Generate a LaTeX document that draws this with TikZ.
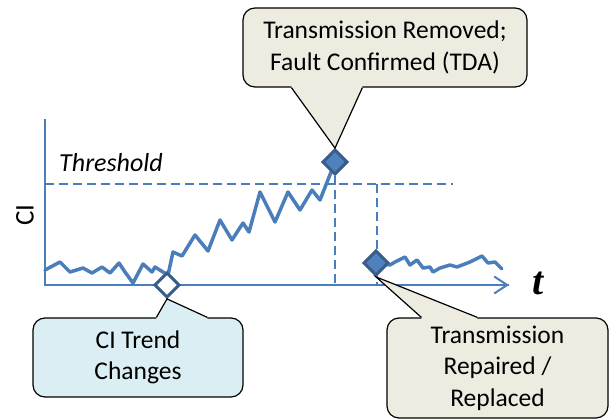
\documentclass[tikz,border=0pt]{standalone}
\usepackage{fontspec}
\setmainfont{Carlito}
\newfontfamily\timesfont{Liberation Serif}
\usetikzlibrary{shapes.geometric,arrows.meta,calc}

\definecolor{ciblue}{HTML}{4A7EBB}
\definecolor{mark}{HTML}{4F81BD}
\definecolor{markedge}{HTML}{385D8A}
\definecolor{notetan}{HTML}{EEECE1}
\definecolor{noteblue}{HTML}{DAEEF3}

\tikzset{
  axis/.style={ciblue, line width=2pt},
  guide/.style={ciblue, line width=1.6pt, dash pattern=on 9pt off 5pt},
  signal/.style={ciblue, line width=3.5pt, line join=round, line cap=round},
  event/.style={draw=markedge, fill=mark, diamond, minimum size=25pt, inner sep=0pt, line width=2.8pt},
  note/.style={draw=black, line width=1.2pt, rounded corners=12pt, align=center,
               inner sep=0pt, font=\fontsize{25.5}{31.5}\selectfont},
}

\begin{document}
\begin{tikzpicture}[x=1pt, y=-1pt]
    \useasboundingbox (0,0) rectangle (610,420);

    % axes and threshold
    \coordinate (o) at (45,285);
    \draw[axis] (45,119) -- (o) -- (509,285) coordinate (tend);
    \draw[axis, -{Straight Barb[length=13pt, width=17pt, line width=2pt]}] (480,285) -- (tend);
    \node[font=\fontsize{26}{26}\selectfont\itshape] (thr) at (111,163) {Threshold};
    \node[font=\fontsize{27}{27}\selectfont, rotate=90] (ci) at (25,215) {CI};
    \node[font=\fontsize{40}{40}\selectfont\timesfont\bfseries\itshape] (t) at (538,283) {t};

    % nodes: trend change, removal, repair
    \node[event, fill=white] (chg) at (167,285) {};
    \node[event] (rmv) at (335,162) {};
    \node[event] (rpr) at (376,263) {};

    % dashed guides
    \draw[guide] (o |- 0,184) -- (453,184);
    \draw[guide] (rmv.center) -- (rmv |- o);
    \draw[guide] (377,184) -- (377,285);

    % CI signal
    \draw[signal] plot coordinates {(45,270) (60,262) (70,272) (83,268) (92,273) (102,267)
        (110,273) (119,263) (125,272) (133,283) (143,264) (152,272) (155,267) (163,272)
        (168,275) (173,252) (182,256) (195,235) (208,251) (220,220) (232,240) (243,223)
        (249,232) (260,192) (268,208) (275,222) (288,192) (300,210) (312,190) (320,200)
        (rmv.center)};
    \draw[signal] plot coordinates {(rpr.center) (390,265) (395,262) (405,257) (410,265)
        (417,260) (423,268) (430,267) (433,272) (440,268) (450,265) (457,267) (470,262)
        (482,256) (488,263) (495,262) (502,269)};

    % redraw markers on top of the signal
    \node[event, fill=white] at (chg) {};
    \node[event] at (rmv) {};
    \node[event] at (rpr) {};

    % callouts
    \node[note, fill=notetan, minimum width=284pt, minimum height=79pt] (rmvnote) at (385,47.5)
        {Transmission Removed;\\Fault Confirmed (TDA)};
    \node[note, fill=noteblue, minimum width=210pt, minimum height=79pt] (chgnote) at (138,357.5)
        {CI Trend\\Changes};
    \node[note, fill=notetan, minimum width=221pt, minimum height=100pt] (rprnote) at (497.5,368)
        {Transmission\\Repaired /\\Replaced};

    % callout pointers
    \fill[notetan] ($(rmvnote.south west)+(49,-2)$) -- ($(rmvnote.south west)+(49,0)$) -- (rmv.north)
        -- ($(rmvnote.south west)+(120,0)$) -- ($(rmvnote.south west)+(120,-2)$) -- cycle;
    \draw[line width=1.2pt] ($(rmvnote.south west)+(49,0)$) -- (rmv.north) -- ($(rmvnote.south west)+(120,0)$);
    \fill[noteblue] ($(chgnote.north west)+(124,2)$) -- ($(chgnote.north west)+(124,0)$) -- (chg.south)
        -- ($(chgnote.north west)+(175,0)$) -- ($(chgnote.north west)+(175,2)$) -- cycle;
    \draw[line width=1.2pt] ($(chgnote.north west)+(124,0)$) -- (chg.south) -- ($(chgnote.north west)+(175,0)$);
    \fill[notetan] ($(rprnote.north west)+(35,2)$) -- ($(rprnote.north west)+(35,0)$) -- (rpr.south)
        -- ($(rprnote.north west)+(91,0)$) -- ($(rprnote.north west)+(91,2)$) -- cycle;
    \draw[line width=1.2pt] ($(rprnote.north west)+(35,0)$) -- (rpr.south) -- ($(rprnote.north west)+(91,0)$);
\end{tikzpicture}
\end{document}
